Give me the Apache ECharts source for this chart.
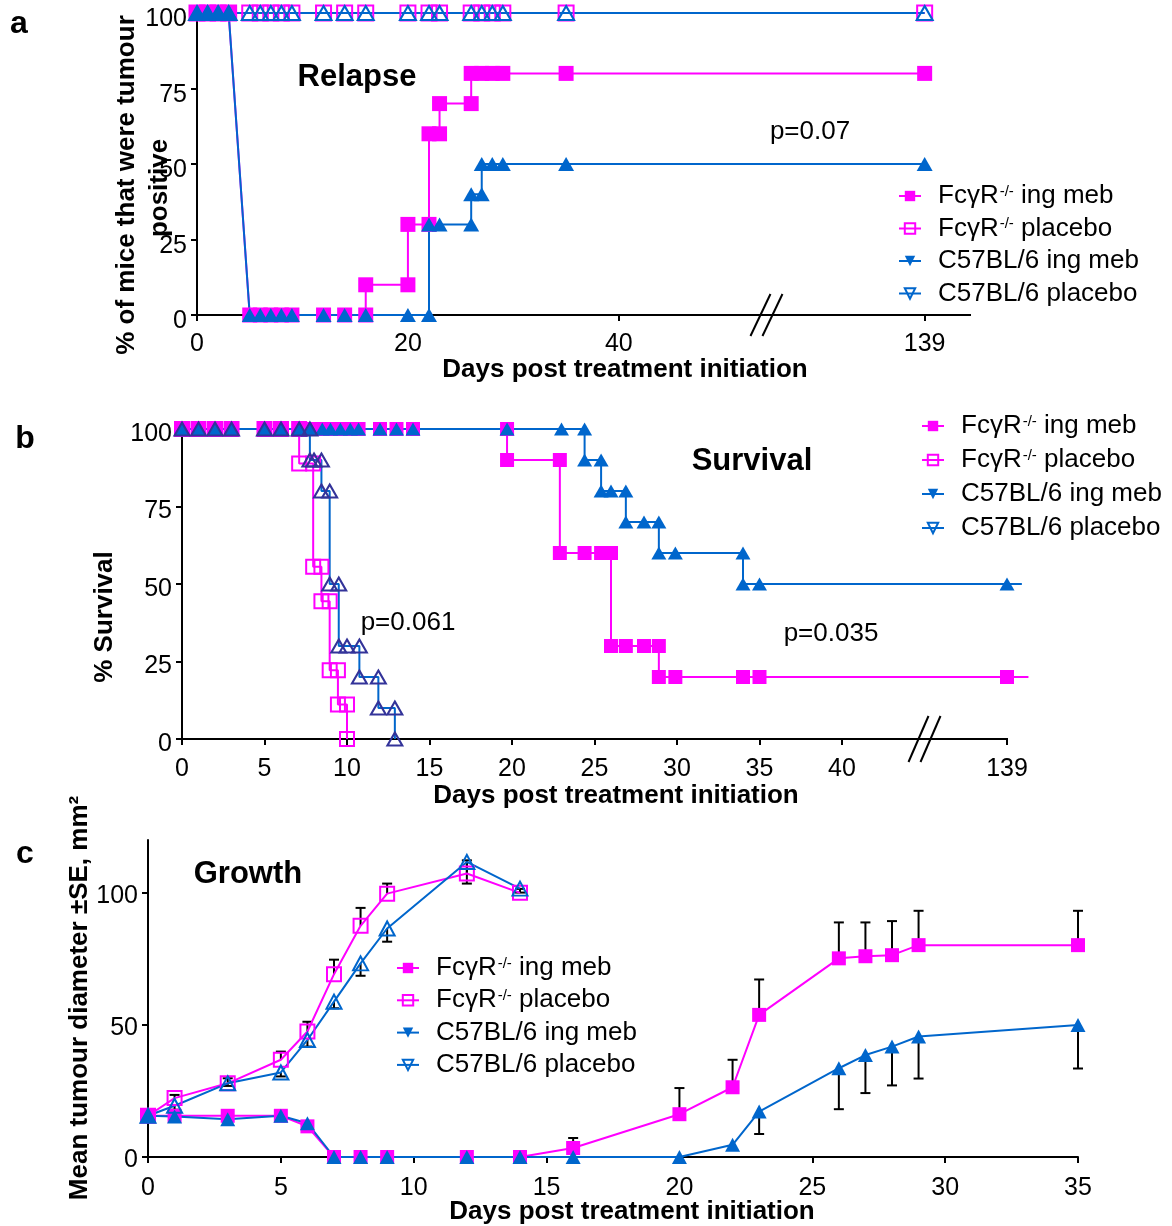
<!DOCTYPE html>
<html lang="en">
<head>
<meta charset="UTF-8">
<title>Relapse, survival and growth</title>
<script src="https://cdn.jsdelivr.net/npm/echarts@6.0.0/dist/echarts.min.js"></script>
<style>
  html, body { margin: 0; padding: 0; background: #fff; }
  #app { width: 1172px; height: 1226px; }
</style>
</head>
<body>
<div id="app"></div>
<script>
const FONT = 'Liberation Sans, Arial, Helvetica, sans-serif'
const names = ['FcγR-/- ing meb', 'FcγR-/- placebo', 'C57BL/6 ing meb', 'C57BL/6 placebo']

// a: relapse (% tumour positive), [day, %]
const relapseFcIng = [[0,100],[1,100],[2,100],[3,100],[5,0],[6,0],[7,0],[8,0],[9,0],[12,0],[14,0],[16,0],[16,10],[20,10],[20,30],[22,30],[22,60],[23,60],[23,70],[26,70],[26,80],[27,80],[28,80],[29,80],[35,80],[139,80]]
const relapseFcPla = [[0,100],[1,100],[2,100],[3,100],[5,100],[6,100],[7,100],[8,100],[9,100],[12,100],[14,100],[16,100],[20,100],[22,100],[23,100],[26,100],[27,100],[28,100],[29,100],[35,100],[139,100]]
const relapseC57Ing = [[0,100],[1,100],[2,100],[3,100],[5,0],[6,0],[7,0],[8,0],[9,0],[12,0],[14,0],[16,0],[20,0],[22,0],[22,30],[23,30],[26,30],[26,40],[27,40],[27,50],[28,50],[29,50],[35,50],[139,50]]
const relapseC57Pla = [[0,100],[1,100],[2,100],[3,100],[5,100],[6,100],[7,100],[8,100],[9,100],[12,100],[14,100],[16,100],[20,100],[22,100],[23,100],[26,100],[27,100],[28,100],[29,100],[35,100],[139,100]]

// b: survival, [day, %]
const survFcIng = [[0,100],[1,100],[2,100],[3,100],[5,100],[6,100],[7.1,100],[7.8,100],[8.5,100],[9,100],[9.6,100],[10.2,100],[10.7,100],[12,100],[13,100],[14,100],[19.7,100],[19.7,90],[22.9,90],[22.9,60],[24.4,60],[25.4,60],[26,60],[26,30],[26.9,30],[28,30],[28.9,30],[28.9,20],[29.9,20],[34,20],[35,20],[139,20]]
const survFcPla = [[0,100],[1,100],[2,100],[3,100],[5,100],[6,100],[7.1,100],[7.1,88.9],[7.95,88.9],[7.95,55.6],[8.45,55.6],[8.45,44.4],[8.95,44.4],[8.95,22.2],[9.45,22.2],[9.45,11.1],[10,11.1],[10,0]]
const survC57Ing = [[0,100],[1,100],[2,100],[3,100],[5,100],[6,100],[7.1,100],[7.8,100],[8.5,100],[9,100],[9.6,100],[10.2,100],[10.7,100],[12,100],[13,100],[14,100],[19.7,100],[23,100],[24.4,100],[24.4,90],[25.4,90],[25.4,80],[26,80],[26.9,80],[26.9,70],[28,70],[28.9,70],[28.9,60],[29.9,60],[34,60],[34,50],[35,50],[139,50]]
const survC57Pla = [[0,100],[1,100],[2,100],[3,100],[5,100],[6,100],[7.1,100],[7.75,100],[7.75,90],[8,90],[8.45,90],[8.45,80],[8.95,80],[8.95,50],[9.5,50],[9.5,30],[10,30],[10.75,30],[10.75,20],[11.9,20],[11.9,10],[12.9,10],[12.9,0]]
const survTail = [1.3, 0, 0.9, 0]   // follow-up line drawn past the last mark

// c: growth, mean tumour diameter and SE
const growthDays = [0,1,3,5,6,7,8,9,12,14,16,20,22,23,26,27,28,29,35]
const growthFcIng = [15.6,15.6,15.6,15.6,11.6,0,0,0,0,0,3.4,16.2,26.4,53.8,75.2,76.0,76.4,80.2,80.2]
const growthFcIngSE = [0,0,0,0,0,0,0,0,0,0,3.8,9.9,10.4,13.4,13.6,12.8,12.9,13.0,13.0]
const growthC57Ing = [15.6,15.3,14.3,15.6,12.8,0,0,0,0,0,0,0,4.6,17.2,33.6,38.6,41.8,45.6,50.0]
const growthC57IngSE = [0,0,0,0,0,0,0,0,0,0,0,0,0,8.5,15.5,14.4,14.7,15.9,16.5]
const placeboDays = [0,1,3,5,6,7,8,9,12,14]
const growthFcPla = [15.6,22.3,27.9,36.8,47.5,69.2,87.5,99.7,107.3,100]
const growthFcPlaSE = [0,1.2,1.9,3.1,3.7,5.5,6.8,3.8,5.0,1.5]
const growthC57Pla = [15.6,19.4,27.9,32.0,44.3,58.8,73.3,86.5,111.7,101.6]
const growthC57PlaSE = [0,1.5,1,1.5,2.5,2.5,4.7,5.0,8.2,1.5]

// ticks
const ticksA = [0, 20, 40, 139]
const ticksB = [0, 5, 10, 15, 20, 25, 30, 35, 40, 139]
const ticksYC = [0, 50, 100]

// where day 139 sits on the broken axes; lineEnd = where the drawn axis line stops
const breakA = { at: 69, mark: 54, max: 73.3, lineEnd: 73.3 }
const breakB = { at: 50, mark: 45, max: 51.3, lineEnd: 50 }

const MAG = '#FF00FF', BLUE = '#0066CC', NAVY = '#333399'
const styles = [
  { symbol: 'rect', line: MAG, fill: MAG, border: MAG, bw: 0 },
  { symbol: 'rect', line: MAG, fill: 'rgba(255,255,255,0)', border: MAG, bw: 2 },
  { symbol: 'triangle', line: BLUE, fill: BLUE, border: BLUE, bw: 0 },
  { symbol: 'triangle', line: BLUE, fill: 'rgba(255,255,255,0)', border: BLUE, bw: 2 }
]

const squeeze = (pts, brk) => pts.map(([d, v]) => [d > 100 ? brk.at : d, v])

function lineSeries(i, grid, data, sizes, border) {
  const s = styles[i]
  return {
    type: 'line', name: names[i], xAxisIndex: grid, yAxisIndex: grid,
    data, clip: false, animation: false,
    symbol: s.symbol, symbolSize: s.symbol === 'rect' ? sizes[0] : sizes[1],
    lineStyle: { color: s.line, width: 2 },
    itemStyle: { color: s.fill, borderColor: border || s.border, borderWidth: s.bw },
    emphasis: { disabled: true }
  }
}

function errSeries(days, vals, se, dir) {
  return {
    type: 'custom', xAxisIndex: 2, yAxisIndex: 2, silent: true, clip: false,
    data: days.map((d, i) => [d, vals[i], se[i]]),
    encode: { x: 0, y: 1 },
    renderItem: (params, api) => {
      const e = api.value(2)
      if (!e) return null
      const p0 = api.coord([api.value(0), api.value(1)])
      const p1 = api.coord([api.value(0), api.value(1) + dir * e])
      return {
        type: 'group', children: [
          { type: 'line', shape: { x1: p0[0], y1: p0[1], x2: p1[0], y2: p1[1] }, style: { stroke: '#000', lineWidth: 2 } },
          { type: 'line', shape: { x1: p1[0] - 5, y1: p1[1], x2: p1[0] + 5, y2: p1[1] }, style: { stroke: '#000', lineWidth: 2 } }
        ]
      }
    }
  }
}

function legendAt(left, top, gap) {
  return {
    orient: 'vertical', left, top, padding: 0, itemGap: gap,
    itemWidth: 22, itemHeight: 13, selectedMode: false,
    data: names.map((n, i) => ({ name: n, symbolRotate: i >= 2 ? 180 : 0 })),
    formatter: n => n.replace('-/-', '{sup|-/-}'),
    textStyle: {
      fontFamily: FONT, fontSize: 26, color: '#000', lineHeight: 30, padding: [0, 0, 0, 12],
      rich: { sup: { fontFamily: FONT, fontSize: 15, color: '#000', verticalAlign: 'top', padding: [3, 0, 0, 1] } }
    }
  }
}

const tickStyle = { length: 6, lineStyle: { color: '#000', width: 2 } }
const lab = { fontFamily: FONT, fontSize: 25, color: '#000' }
const axisLine = { lineStyle: { color: '#000', width: 2 } }

function xAxisBroken(grid, brk, ticks, margin) {
  const vals = ticks.map(t => t > 100 ? brk.at : t)
  return {
    type: 'value', gridIndex: grid, min: 0, max: brk.max, splitLine: { show: false },
    axisLine: { show: false }, axisTick: Object.assign({ customValues: vals }, tickStyle),
    axisLabel: Object.assign({ customValues: vals, margin, formatter: v => v === brk.at ? '139' : String(v) }, lab)
  }
}

// y labels sit a little below their ticks in the original
function yLab(drop, extra) {
  return Object.assign({
    margin: 10,
    formatter: v => '{v|' + v + '}',
    rich: { v: { fontFamily: FONT, fontSize: 25, color: '#000', padding: [drop, 0, 0, 0] } }
  }, lab, extra || {})
}

function yAxisPct(grid, drop) {
  return {
    type: 'value', gridIndex: grid, min: 0, max: 100, interval: 25, splitLine: { show: false },
    axisLine, axisTick: tickStyle, axisLabel: yLab(drop)
  }
}

let mCharts = echarts.init(document.getElementById('app'))

const series = []
;[relapseFcIng, relapseFcPla, relapseC57Ing, relapseC57Pla].forEach((pts, i) => {
  series.push(lineSeries(i, 0, squeeze(pts, breakA), [15, [16, 14]]))
})
;[survFcIng, survFcPla, survC57Ing, survC57Pla].forEach((pts, i) => {
  const data = squeeze(pts, breakB)
  if (survTail[i]) {
    const last = data[data.length - 1]
    data.push({ value: [last[0] + survTail[i], last[1]], symbol: 'none' })
  }
  series.push(lineSeries(i, 1, data, [14, [15, 13]], i === 3 ? NAVY : null))
})
series.push(errSeries(growthDays, growthFcIng, growthFcIngSE, 1))
series.push(errSeries(growthDays, growthC57Ing, growthC57IngSE, -1))
series.push(errSeries(placeboDays, growthFcPla, growthFcPlaSE, 1))
series.push(errSeries(placeboDays, growthC57Pla, growthC57PlaSE, -1))
series.push(lineSeries(0, 2, growthDays.map((d, i) => [d, growthFcIng[i]]), [14, [15, 14]]))
series.push(lineSeries(1, 2, placeboDays.map((d, i) => [d, growthFcPla[i]]), [14, [15, 14]]))
series.push(lineSeries(2, 2, growthDays.map((d, i) => [d, growthC57Ing[i]]), [14, [15, 14]]))
series.push(lineSeries(3, 2, placeboDays.map((d, i) => [d, growthC57Pla[i]]), [14, [15, 14]]))

const dayPxB = 16.5   // panel b: pixels per axis unit
mCharts.setOption({
  animation: false,
  backgroundColor: '#fff',
  grid: [
    { left: 197, top: 13, width: 773, height: 302 },
    { left: 182, top: 429, width: dayPxB * breakB.max, height: 310 },
    { left: 148, top: 840, width: 930, height: 317 }
  ],
  xAxis: [
    xAxisBroken(0, breakA, ticksA, 17),
    xAxisBroken(1, breakB, ticksB, 18),
    {
      type: 'value', gridIndex: 2, min: 0, max: 35, interval: 5, splitLine: { show: false },
      axisLine, axisTick: tickStyle, axisLabel: Object.assign({ margin: 19 }, lab)
    }
  ],
  yAxis: [
    yAxisPct(0, 13),
    yAxisPct(1, 10),
    {
      type: 'value', gridIndex: 2, min: 0, max: 120, splitLine: { show: false },
      axisLine, axisTick: Object.assign({ customValues: ticksYC }, tickStyle),
      axisLabel: yLab(6, { customValues: ticksYC })
    }
  ],
  legend: [legendAt(898, 181, 2.5), legendAt(921, 411, 4), legendAt(396, 953, 2.3)],
  series
})

// text labels, broken x-axis lines and break marks
function txt(x, y, text, size, bold, rot) {
  return {
    type: 'text', x, y, rotation: rot || 0, silent: true,
    style: { text, fontFamily: FONT, fontSize: size, fontWeight: bold ? 'bold' : 'normal', fill: '#000', align: 'center', verticalAlign: 'middle' }
  }
}
function brokenAxis(grid, brk, dy) {
  const p0 = mCharts.convertToPixel({ gridIndex: grid }, [0, 0])
  const p1 = mCharts.convertToPixel({ gridIndex: grid }, [brk.lineEnd, 0])
  const p = mCharts.convertToPixel({ gridIndex: grid }, [brk.mark, 0])
  const els = [{
    type: 'line', silent: true,
    shape: { x1: p0[0] - 1, y1: p0[1], x2: p1[0] + 1, y2: p1[1] },
    style: { stroke: '#000', lineWidth: 2 }
  }]
  ;[-6, 6].forEach(off => els.push({
    type: 'line', silent: true,
    shape: { x1: p[0] + off - 10, y1: p[1] + dy, x2: p[0] + off + 10, y2: p[1] - dy },
    style: { stroke: '#000', lineWidth: 2 }
  }))
  return els
}

mCharts.setOption({
  graphic: [
    txt(19, 24, 'a', 32, true),
    txt(25, 439, 'b', 32, true),
    txt(25, 854, 'c', 32, true),
    txt(357, 77, 'Relapse', 31, true),
    txt(752, 461, 'Survival', 31, true),
    txt(248, 874, 'Growth', 31, true),
    txt(810, 132, 'p=0.07', 26),
    txt(408, 623, 'p=0.061', 26),
    txt(831, 634, 'p=0.035', 26),
    txt(625, 370, 'Days post treatment initiation', 26, true),
    txt(616, 796, 'Days post treatment initiation', 26, true),
    txt(632, 1212, 'Days post treatment initiation', 26, true),
    txt(127, 185, '% of mice that were tumour', 26, true, Math.PI / 2),
    txt(160, 188, 'positive', 26, true, Math.PI / 2),
    txt(105, 617, '% Survival', 26, true, Math.PI / 2),
    txt(80, 998, 'Mean tumour diameter ±SE, mm²', 26, true, Math.PI / 2)
  ].concat(brokenAxis(0, breakA, 21), brokenAxis(1, breakB, 23))
})
</script>
</body>
</html>
